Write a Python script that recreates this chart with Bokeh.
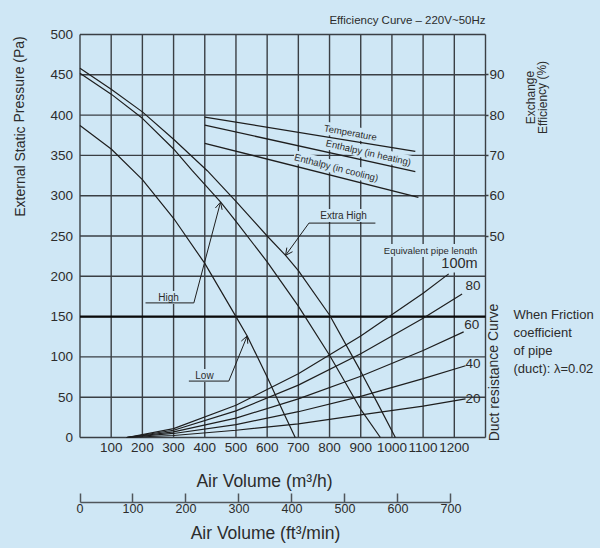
from bokeh.plotting import figure
from bokeh.models import Range1d, LinearAxis, FixedTicker, Label, Arrow, OpenHead
from bokeh.embed import file_html
from bokeh.resources import INLINE

# ---------------- data ----------------
x_ticks = [100, 200, 300, 400, 500, 600, 700, 800, 900, 1000, 1100, 1200]
x_grid = [0, 100, 200, 300, 400, 500, 600, 700, 800, 900, 1000, 1100, 1200, 1300]
y_ticks = [0, 50, 100, 150, 200, 250, 300, 350, 400, 450, 500]
eff_ticks = [50, 60, 70, 80, 90]
cfm_ticks = [0, 100, 200, 300, 400, 500, 600, 700]
M3H_PER_CFM = 1.699
PA_PER_PERCENT = 5.0
highlight_pressure = 150

# fan curves (m3/h, Pa)
extra_high_q = [0, 100, 200, 300, 408, 500, 600, 659, 700, 800, 900, 960, 1011]
extra_high_p = [458, 432, 404, 370, 331, 293, 250, 226, 207, 152, 82, 38, 0]
high_q = [0, 100, 200, 300, 360, 451, 500, 600, 700, 800, 900, 963]
high_p = [452, 426, 396, 358, 331, 292, 268, 218, 163, 102, 35, 0]
low_q = [0, 100, 200, 300, 400, 500, 536, 600, 650, 690]
low_p = [387, 358, 320, 272, 216, 150, 126, 75, 33, 0]

# efficiency curves (m3/h, %)
temp_q = [400, 1075]
temp_eff = [79.5, 71.0]
heat_q = [400, 1075]
heat_eff = [77.5, 66.0]
cool_q = [400, 1085]
cool_eff = [73.0, 59.6]

# duct resistance curves (m3/h, Pa) by equivalent pipe length
duct_q = [150, 300, 500, 700, 900, 1100]
duct_100_q = duct_q + [1182]
duct_100_p = [0, 11, 40, 79, 126, 179, 203]
duct_80_q = duct_q + [1225]
duct_80_p = [0, 9, 33, 65, 104, 148, 178]
duct_60_q = duct_q + [1230]
duct_60_p = [0, 7, 24, 48, 76, 108, 131]
duct_40_q = duct_q + [1236]
duct_40_p = [0, 5, 16, 32, 51, 73, 89]
duct_20_q = duct_q + [1236]
duct_20_p = [0, 2.5, 9, 17, 28, 39, 48]

# ---------------- layout / style ----------------
W, H = 598, 546
FRAME_L, FRAME_R, FRAME_T, FRAME_B = 79.5, 485.0, 34.0, 437.0
BG = "#cfe7f5"
GRID = "#3a3f44"
INK = "#1e1e1e"
TXT = "#2c2c2c"
FONT = "Liberation Sans"

x_lo, x_hi = x_grid[0], x_grid[-1]
y_lo, y_hi = y_ticks[0], y_ticks[-1]
sx = (FRAME_R - FRAME_L) / (x_hi - x_lo)
sy = (FRAME_B - FRAME_T) / (y_hi - y_lo)
x_start = x_lo - FRAME_L / sx
x_end = x_hi + (W - FRAME_R) / sx
y_start = y_lo - (H - FRAME_B) / sy
y_end = y_hi + FRAME_T / sy

def px_x(px):
    return x_lo + (px - FRAME_L) / sx

def px_y(py):
    return y_lo + (FRAME_B - py) / sy

p = figure(width=W, height=H, x_range=Range1d(x_start, x_end), y_range=Range1d(y_start, y_end),
           output_backend="svg", toolbar_location=None, x_axis_location=None, y_axis_location=None,
           min_border=0, background_fill_color=BG, border_fill_color=BG, outline_line_color=None)
p.xgrid.visible = False
p.ygrid.visible = False
p.extra_y_ranges = {"eff": Range1d(y_start / PA_PER_PERCENT, y_end / PA_PER_PERCENT)}
p.extra_x_ranges = {"cfm": Range1d(x_start / M3H_PER_CFM, x_end / M3H_PER_CFM)}

# grid (frame edges are the outer grid lines)
p.segment(x0=x_grid, y0=[y_lo] * len(x_grid), x1=x_grid, y1=[y_hi] * len(x_grid),
          line_color=GRID, line_width=1.4, level="underlay")
p.segment(x0=[x_lo] * len(y_ticks), y0=y_ticks, x1=[x_hi] * len(y_ticks), y1=y_ticks,
          line_color=GRID, line_width=1.4, level="underlay")
p.segment(x0=[x_lo], y0=[highlight_pressure], x1=[x_hi], y1=[highlight_pressure],
          line_color="#0a0a0a", line_width=2.2, level="underlay")

def style_axis(ax, size="13.5px"):
    ax.axis_line_color = None
    ax.major_tick_out = 0
    ax.major_tick_in = 0
    ax.minor_tick_out = 0
    ax.minor_tick_in = 0
    ax.major_label_text_font = FONT
    ax.major_label_text_font_size = size
    ax.major_label_text_color = TXT

ya = LinearAxis(ticker=FixedTicker(ticks=y_ticks), fixed_location=x_lo)
style_axis(ya)
ya.major_label_standoff = 7
p.add_layout(ya, "left")

xa = LinearAxis(ticker=FixedTicker(ticks=x_ticks), fixed_location=y_lo)
style_axis(xa)
xa.major_label_standoff = 5
p.add_layout(xa, "below")

ra = LinearAxis(y_range_name="eff", ticker=FixedTicker(ticks=eff_ticks), fixed_location=x_hi)
style_axis(ra)
ra.major_tick_out = 3
ra.major_tick_line_color = GRID
ra.major_tick_line_width = 1.4
ra.major_label_standoff = 1
p.add_layout(ra, "right")

ca = LinearAxis(x_range_name="cfm", ticker=FixedTicker(ticks=cfm_ticks), bounds=(0, 700),
                fixed_location=px_y(502))
style_axis(ca, "12.5px")
ca.axis_line_color = "#50565b"
ca.axis_line_width = 1.5
ca.major_tick_in = 9
ca.major_tick_line_color = "#50565b"
ca.major_tick_line_width = 1.5
ca.major_label_standoff = 1
p.add_layout(ca, "below")

def lbl(x, y, text, size, angle=0.0, align="center", baseline="middle", bg=False, under=False):
    kw = dict(x=x, y=y, text=text, text_font=FONT, text_font_size=size, text_color=TXT,
              angle=angle, text_align=align, text_baseline=baseline)
    if bg:
        kw["background_fill_color"] = BG
        kw["padding"] = 1
    if under:
        kw["level"] = "underlay"
    p.add_layout(Label(**kw))

# curves
for q, v in [(extra_high_q, extra_high_p), (high_q, high_p), (low_q, low_p),
             (duct_100_q, duct_100_p), (duct_80_q, duct_80_p), (duct_60_q, duct_60_p),
             (duct_40_q, duct_40_p), (duct_20_q, duct_20_p)]:
    p.line(q, v, line_color=INK, line_width=1.2)
for q, v in [(temp_q, temp_eff), (heat_q, heat_eff), (cool_q, cool_eff)]:
    p.line(q, v, line_color=INK, line_width=1.3, y_range_name="eff")

# efficiency labels
lbl(867, 378.4, "Temperature", "9.5px", angle=-0.175, bg=True, under=True)
lbl(925, 353.6, "Enthalpy (in heating)", "9.5px", angle=-0.227, bg=True, under=True)
lbl(822, 335, "Enthalpy (in cooling)", "9.5px", angle=-0.253, bg=True, under=True)

# fan labels with leader arrows
eh_leader_q = [947, 734]
eh_leader_p = [266, 266]
hi_leader_q = [210, 365]
hi_leader_p = [167, 167]
lo_leader_q = [349, 477]
lo_leader_p = [70, 70]
for q, v in [(eh_leader_q, eh_leader_p), (hi_leader_q, hi_leader_p), (lo_leader_q, lo_leader_p)]:
    p.line(q, v, line_color=INK, line_width=1)
for (xs, ys, xe, ye) in [(734, 266, 659, 226), (365, 167, 450.5, 292), (477, 70, 536, 126)]:
    p.add_layout(Arrow(end=OpenHead(size=7, line_color=INK, line_width=1),
                       x_start=xs, y_start=ys, x_end=xe, y_end=ye,
                       line_color=INK, line_width=1))
lbl(845, 275.4, "Extra High", "10px", bg=True, under=True)
lbl(284, 173.7, "High", "10px", bg=True, under=True)
lbl(399, 76.9, "Low", "10px", bg=True, under=True)

# duct labels
lbl(1124, 232, "Equivalent pipe length", "9.5px", bg=True, under=True)
lbl(1278, 215.9, "100m", "14.5px", align="right", bg=True, under=True)
lbl(1284, 188.6, "80", "13.5px", align="right")
lbl(1280, 140.2, "60", "13.5px", align="right")
lbl(1284, 91.8, "40", "13.5px", align="right")
lbl(1284, 48.4, "20", "13.5px", align="right")

# outer titles
lbl(x_hi, px_y(19), "Efficiency Curve – 220V~50Hz", "11.5px", align="right")
lbl(px_x(19), px_y(126), "External Static Pressure (Pa)", "14px", angle=1.5708)
lbl(px_x(264), px_y(480), "Air Volume (m³/h)", "17.5px")
lbl(px_x(265), px_y(532), "Air Volume (ft³/min)", "17.5px")
lbl(px_x(530), px_y(97), "Exchange", "12px", angle=1.5708)
lbl(px_x(542), px_y(97), "Efficiency (%)", "12px", angle=1.5708)
lbl(px_x(493), px_y(372), "Duct resistance Curve", "14px", angle=1.5708)
for py, t in [(314, "When Friction"), (332, "coefficient"), (350, "of pipe"), (368, "(duct): λ=0.02")]:
    lbl(px_x(513), px_y(py), t, "13px", align="left")

html = file_html(p, INLINE, title="Efficiency Curve")
html = html.replace("<head>", "<head>\n<style>html,body{background:%s;}</style>" % BG, 1)
open("out.html", "w").write(html)
